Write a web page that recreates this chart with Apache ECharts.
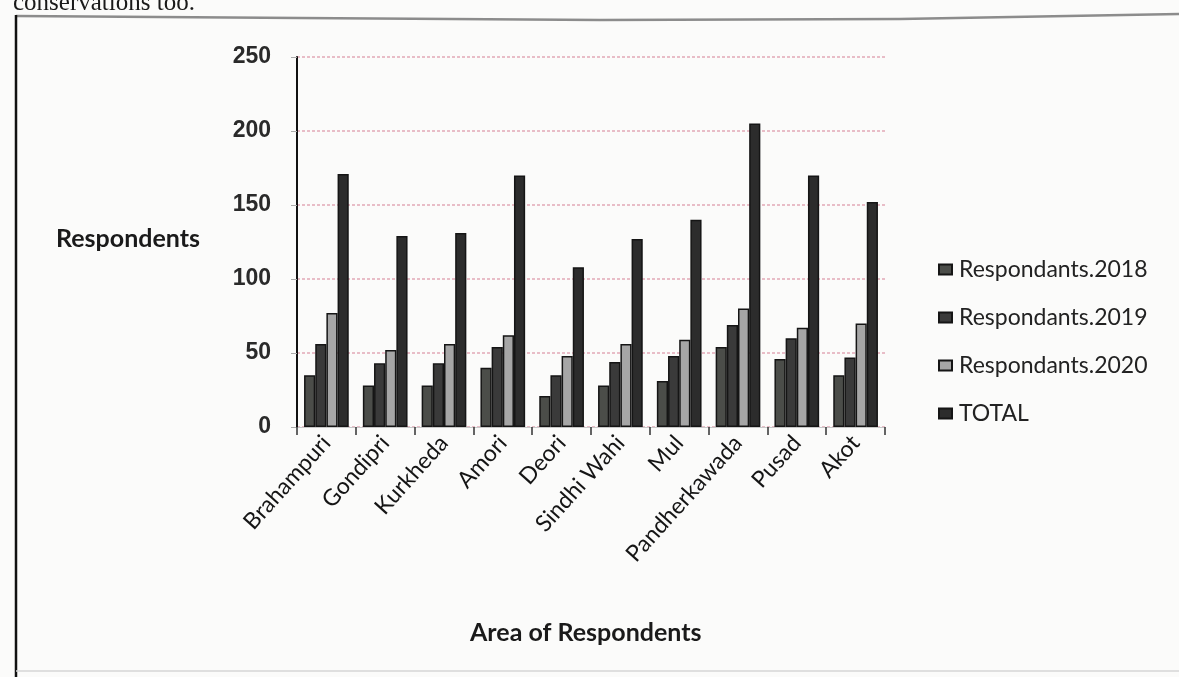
<!DOCTYPE html>
<html>
<head>
<meta charset="utf-8">
<script src="https://cdn.jsdelivr.net/npm/echarts@6/dist/echarts.min.js"></script>
<style>
  html, body { margin: 0; padding: 0; background: #fbfbfa; }
  #chart { width: 1179px; height: 677px; }
</style>
</head>
<body>
<div id="chart"></div>
<script>
// Respondents per area, by year, plus the total
const categories = ['Brahampuri', 'Gondipri', 'Kurkheda', 'Amori', 'Deori',
  'Sindhi Wahi', 'Mul', 'Pandherkawada', 'Pusad', 'Akot'];
const resp2018 = [35, 28, 28, 40, 21, 28, 31, 54, 46, 35];
const resp2019 = [56, 43, 43, 54, 35, 44, 48, 69, 60, 47];
const resp2020 = [77, 52, 56, 62, 48, 56, 59, 80, 67, 70];
const respTotal = [171, 129, 131, 170, 108, 127, 140, 205, 170, 152];
const seriesNames = ['Respondants.2018', 'Respondants.2019', 'Respondants.2020', 'TOTAL'];
const seriesData = [resp2018, resp2019, resp2020, respTotal];
const seriesColors = ['#4b4d49', '#3a3a3a', '#a6a6a6', '#2c2c2c'];

const chart = echarts.init(document.getElementById('chart'));

const labelFont = 'Lato, "Open Sans", sans-serif';

chart.setOption({
  backgroundColor: '#fbfbfa',
  animation: false,
  grid: { left: 297, right: 294, top: 57, height: 370 },
  legend: {
    orient: 'vertical',
    left: 933,
    top: 253,
    itemGap: 25,
    itemWidth: 13,
    itemHeight: 10,
    icon: 'rect',
    data: seriesNames,
    textStyle: { fontFamily: labelFont, fontSize: 23, color: '#222', padding: [0, 0, 0, 2] }
  },
  xAxis: {
    type: 'category',
    data: categories,
    axisLine: { show: true, lineStyle: { color: '#c8c8c8', width: 1 } },
    axisTick: { show: true, length: 8, lineStyle: { color: '#333', width: 1.5 } },
    axisLabel: {
      rotate: 48,
      margin: 12,
      fontFamily: labelFont,
      fontSize: 23,
      color: '#151515',
      interval: 0
    }
  },
  yAxis: {
    type: 'value',
    min: 0,
    max: 250,
    interval: 50,
    axisLine: { show: true, lineStyle: { color: '#111', width: 2 } },
    axisTick: { show: true, length: 6, lineStyle: { color: '#aaa' } },
    axisLabel: {
      margin: 26,
      fontFamily: '"Liberation Sans", Arial, sans-serif',
      fontWeight: 'bold',
      fontSize: 23,
      color: '#2a2a2a'
    },
    splitLine: { show: true, lineStyle: { color: '#e2a9b6', type: [3, 2], width: 1.5 } }
  },
  series: seriesData.map((data, i) => ({
    name: seriesNames[i],
    type: 'bar',
    data: data,
    barGap: '0%',
    barCategoryGap: '24%',
    itemStyle: { color: seriesColors[i], borderColor: '#151515', borderWidth: 1.5 }
  })),
  graphic: [
    // page text running above the figure frame
    {
      type: 'text', left: 13, top: -9,
      style: { text: 'conservations too.', font: '25px "Liberation Serif", serif', fill: '#1a1a1a' }
    },
    // figure frame
    {
      type: 'polyline',
      shape: { points: [[16, 16], [300, 18], [600, 20], [900, 19], [1179, 14]] },
      style: { stroke: '#8c8c8c', lineWidth: 2.5, fill: null }
    },
    {
      type: 'line',
      shape: { x1: 16, y1: 15, x2: 16, y2: 677 },
      style: { stroke: '#111', lineWidth: 2.5 }
    },
    {
      type: 'line',
      shape: { x1: 16, y1: 671, x2: 1179, y2: 671 },
      style: { stroke: '#d6d6d6', lineWidth: 1.5 }
    },
    // axis titles
    {
      type: 'text', left: 56, top: 226,
      style: { text: 'Respondents', font: 'bold 25px Lato, "Open Sans", sans-serif', fill: '#1a1a1a' }
    },
    {
      type: 'text', left: 470, top: 620,
      style: { text: 'Area of Respondents', font: 'bold 25px Lato, "Open Sans", sans-serif', fill: '#1a1a1a' }
    }
  ]
});
</script>
</body>
</html>
